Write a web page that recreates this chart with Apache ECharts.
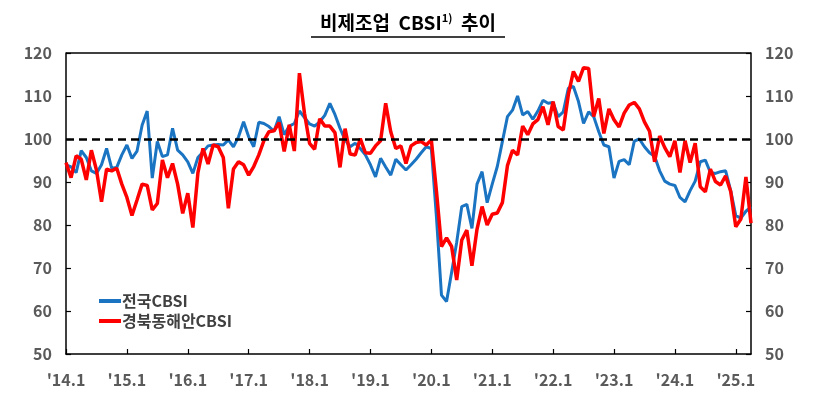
<!DOCTYPE html>
<html><head><meta charset="utf-8">
<script src="https://cdn.jsdelivr.net/npm/echarts@6/dist/echarts.min.js"></script>
<style>html,body{margin:0;padding:0;background:#fff}#c{width:816px;height:394px}</style>
</head><body><div id="c"></div>
<script>
// months 2014.1 .. 2025.4
const startYear = 2014, nMonths = 136;
const categories = [];
for (let i = 0; i < nMonths; i++) {
  const y = startYear + Math.floor(i / 12), m = i % 12 + 1;
  categories.push("'" + String(y).slice(2) + "." + m);
}
const nationalCBSI = [
  94,93.5,92.2,97.3,95.7,92.6,92,94,97.8,93.2,93.4,96.3,
  98.6,95.5,97.2,103.2,106.5,90.9,99.4,95.9,96.3,102.5,97.4,96.3,
  94.7,92,95.7,97,98.4,98.6,98.7,98.6,99.8,98.2,100.5,104,
  100.5,98.2,103.9,103.6,102.9,101.8,105.2,101,103,103.6,106.5,105,
  103.5,103,104,105.5,108.3,105.7,102.5,99.8,98.2,99,97.8,96.3,
  94,91.2,95.5,93.5,91.6,95.3,94,92.8,94,95.3,96.8,98.2,
  97.8,82,63.7,62.2,69,76,84.3,84.8,79.2,89.5,92.4,85.2,
  89.5,93.6,99.4,105.2,106.7,110,105.6,106.4,104.6,106.5,109,108.3,
  108.5,105.2,106.3,111.8,112.2,108.7,103.6,106.3,105.2,101.7,98.6,98.2,
  90.9,94.8,95.2,94,99.5,100,98.2,96.8,96,92.6,90.2,89.5,
  89.2,86.4,85.4,88,90.2,94.7,95.1,92.2,92,92.4,92.6,88,
  82.2,81.6,83.2,84.2
];
const gbEastCoastCBSI = [
  94.5,91,96.1,95.3,90.5,97.4,92.8,85.4,93,92.6,93.2,89.5,
  86.4,82.2,85.8,89.5,89.2,83.5,85,95.1,91,94.3,89.5,82.7,
  87.4,79.4,92.2,97.8,94.2,98.6,98.2,95.7,83.9,93,94.7,94,
  91.6,93.6,96.3,99.6,101.7,101.9,103.8,97.1,103.3,97.2,115.3,106,
  99,97.6,104.7,103,103,101.5,93.4,102.4,96.5,96.3,100.1,96.8,
  96.7,98.4,99.6,108.3,101.7,97.8,98.4,94.3,98.4,99.2,99.4,98.6,
  99.8,88,75,77,75,67.2,76.5,78.8,70.5,79,84.3,80,
  82.5,82.8,85.2,93.8,97.4,96.3,103,101,103.5,104.5,107.5,103.3,
  108.7,102.9,102.1,110.3,115.7,113.4,116.6,116.4,105.2,109.4,101.3,107,
  104.5,102.8,106,107.9,108.5,107,104,101.8,94.7,100.7,98,95.9,
  99.6,92.2,99.6,94.5,99,88.9,87.7,93,90.1,89.3,91.4,87.8,
  79.6,81.4,91.2,80.4
];
const yTicks = {min: 50, max: 120, step: 10};
const seriesNames = ['전국CBSI', '경북동해안CBSI'];
const refLevel = 100;

const chart = echarts.init(document.getElementById('c'));
const labelFont = {fontFamily: "'Noto Sans CJK KR', 'Noto Sans', sans-serif", fontSize: 16, fontWeight: 'bold', color: '#5a5a5a'};
const yAxisBase = {
  type: 'value', min: yTicks.min, max: yTicks.max, interval: yTicks.step,
  splitLine: {show: false},
  axisLine: {show: true, lineStyle: {color: '#000', width: 1.5}},
  axisTick: {show: true, inside: true, length: 5, lineStyle: {color: '#000', width: 1.2}},
};
chart.setOption({
  animation: false,
  backgroundColor: '#fff',
  title: {
    left: 'center', top: 7,
    text: '{a|비제조업  CBSI}{s|1)}{a|  추이}',
    textStyle: {
      rich: {
        a: {fontFamily: "'Noto Sans CJK KR', sans-serif", fontSize: 19, fontWeight: 'bold', color: '#000'},
        s: {fontFamily: "'Noto Sans CJK KR', sans-serif", fontSize: 11, fontWeight: 'bold', color: '#000', verticalAlign: 'top', padding: [0, 0, 10, 0]}
      }
    }
  },
  grid: {left: 66, right: 65, top: 53, bottom: 40},
  legend: {
    orient: 'vertical', left: 94, top: 288, itemGap: 4,
    itemWidth: 22, itemHeight: 4, icon: 'rect',
    textStyle: {fontFamily: "'Noto Sans CJK KR', sans-serif", fontSize: 16, fontWeight: 'bold', color: '#404040', padding: [0, 0, 0, -4]},
    data: seriesNames
  },
  xAxis: {
    type: 'category', data: categories, boundaryGap: false,
    axisLine: {lineStyle: {color: '#000', width: 1.5}},
    axisTick: {show: true, inside: true, length: 5, interval: (i) => i % 12 === 0, lineStyle: {color: '#000', width: 1.2}},
    axisLabel: Object.assign({interval: (i) => i % 12 === 0, margin: 18, hideOverlap: false}, labelFont)
  },
  yAxis: [
    Object.assign({}, yAxisBase, {position: 'left', axisLabel: Object.assign({margin: 14}, labelFont)}),
    Object.assign({}, yAxisBase, {position: 'right', axisLabel: Object.assign({margin: 14}, labelFont)})
  ],
  series: [
    {
      name: seriesNames[0], type: 'line', data: nationalCBSI, showSymbol: false,
      lineStyle: {color: '#1a74c2', width: 3}, itemStyle: {color: '#1a74c2'}, z: 3,
      markLine: {
        silent: true, symbol: 'none', label: {show: false},
        lineStyle: {color: '#000', type: [8, 5], width: 2.5},
        data: [{yAxis: refLevel}]
      }
    },
    {
      name: seriesNames[1], type: 'line', data: gbEastCoastCBSI, showSymbol: false,
      lineStyle: {color: '#ff0000', width: 3.5}, itemStyle: {color: '#ff0000'}, z: 4
    }
  ]
});
// top frame line and title underline
const tl = chart.convertToPixel({gridIndex: 0}, [0, yTicks.max]);
const tr = chart.convertToPixel({gridIndex: 0}, [nMonths - 1, yTicks.max]);
chart.setOption({graphic: [
  {type: 'line', shape: {x1: 311, y1: 37, x2: 505, y2: 37}, style: {stroke: '#000', lineWidth: 1.5}},
  {type: 'line', shape: {x1: tl[0], y1: tl[1], x2: tr[0], y2: tr[1]}, style: {stroke: '#000', lineWidth: 1.5}}]});
</script></body></html>
